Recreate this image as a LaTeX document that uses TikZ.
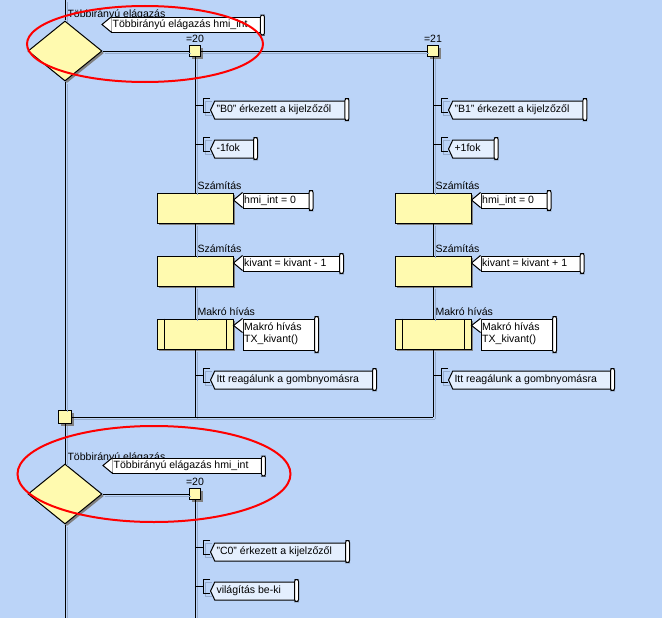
\documentclass[tikz,border=0pt]{standalone}
\usepackage{fontspec}
\setmainfont{Liberation Sans}
\usepackage{xcolor}
\usetikzlibrary{positioning,calc,shapes.geometric,shapes.symbols,shadows}

\definecolor{bgblue}{RGB}{187,212,248}
\definecolor{boxyellow}{RGB}{255,250,175}
\definecolor{noteblue}{RGB}{228,239,254}
\definecolor{lineshade}{RGB}{150,172,205}

\begin{document}
\begin{tikzpicture}[x=0.3mm, y=-0.3mm, line width=0.3mm, font=\fontsize{9}{10.5}\selectfont,
  flow/.style={preaction={draw=lineshade, transform canvas={shift={(0.6mm,-0.6mm)}}}},
  boxshadow/.style={drop shadow={shadow xshift=0.6mm, shadow yshift=-0.6mm, fill=black!50, opacity=1}},
  decide/.style={diamond, draw, fill=boxyellow, inner sep=0pt, minimum width=22.2mm, minimum height=18mm, boxshadow},
  joint/.style={draw, fill=boxyellow, inner sep=0pt, minimum size=3.3mm, boxshadow},
  calcbox/.style={draw, fill=boxyellow, inner sep=0pt, minimum width=22.8mm, minimum height=9mm, boxshadow},
  note/.style={signal, signal to=west, signal pointer angle=130, draw, fill=noteblue, minimum height=5.4mm,
    inner xsep=1.5pt, inner ysep=0pt, text height=2.3mm, text depth=0.65mm, execute at end node={\hspace*{4mm}}},
  callout/.style={draw, fill=white, minimum height=4.5mm, inner xsep=1pt, inner ysep=0pt,
    text height=2.3mm, text depth=0.65mm, execute at end node={\hspace*{4mm}}},
  makro/.style={align=left, minimum height=9.3mm, text height=5.7mm},
  scrollcap/.style={draw, fill=white, rounded corners=0.6mm},
  bracketsh/.style={draw=lineshade},
  lbl/.style={inner sep=0pt},
  redring/.style={ellipse, draw=red, line width=0.6mm, inner sep=0pt}]

\path[use as bounding box, fill=bgblue] (0,0) rectangle (662,618);

\coordinate (top) at (65,0);
\coordinate (bot1) at (65,618);
\coordinate (bot2) at (195,618);
\coordinate (e1) at (195,417);
\coordinate (e2) at (433,417);

\node[decide] (d1) at (65,51) {};
\node[lbl, above right=0.2mm and 0.6mm of d1.north] (d1t) {Többirányú elágazás};
\node[callout, anchor=north west] (c0) at (111,17) {Többirányú elágazás hmi\_int};
\node[joint] (b1) at (195,51) {};
\node[joint] (b2) at (433,51) {};
\node[lbl, above=0.7mm of b1] (b1t) {=20};
\node[lbl, above=0.7mm of b2] (b2t) {=21};

\node[note, anchor=west] (n1) at (210,110) {"B0" érkezett a kijelzőzől};
\node[note, anchor=west] (n2) at (210,149) {-1fok};
\node[calcbox] (s1) at (195,208) {};
\node[lbl, above right=0.6mm and 0.6mm of s1.north] (s1t) {Számítás};
\node[callout, right=2.7mm of s1.north east, anchor=north west] (c1) {hmi\_int = 0};
\node[calcbox] (s2) at (195,271) {};
\node[lbl, above right=0.6mm and 0.6mm of s2.north] (s2t) {Számítás};
\node[callout, right=2.7mm of s2.north east, anchor=north west] (c2) {kivant = kivant - 1};
\node[calcbox] (m1) at (195,334) {};
\node[lbl, above right=0.6mm and 0.6mm of m1.north] (m1t) {Makró hívás};
\node[callout, makro, right=2.7mm of m1.north east, anchor=north west] (c3) {Makró hívás\\TX\_kivant()};
\node[note, anchor=west] (n3) at (210,380) {Itt reagálunk a gombnyomásra};

\node[note, anchor=west] (n4) at (448,110) {"B1" érkezett a kijelzőzől};
\node[note, anchor=west] (n5) at (448,149) {+1fok};
\node[calcbox] (s3) at (433,208) {};
\node[lbl, above right=0.6mm and 0.6mm of s3.north] (s3t) {Számítás};
\node[callout, right=2.7mm of s3.north east, anchor=north west] (c4) {hmi\_int = 0};
\node[calcbox] (s4) at (433,271) {};
\node[lbl, above right=0.6mm and 0.6mm of s4.north] (s4t) {Számítás};
\node[callout, right=2.7mm of s4.north east, anchor=north west] (c5) {kivant = kivant + 1};
\node[calcbox] (m2) at (433,334) {};
\node[lbl, above right=0.6mm and 0.6mm of m2.north] (m2t) {Makró hívás};
\node[callout, makro, right=2.7mm of m2.north east, anchor=north west] (c6) {Makró hívás\\TX\_kivant()};
\node[note, anchor=west] (n6) at (448,380) {Itt reagálunk a gombnyomásra};

\node[joint, minimum size=3.9mm] (j0) at (65,417) {};

\node[decide] (d2) at (65,494) {};
\node[lbl, above right=0.2mm and 0.6mm of d2.north] (d2t) {Többirányú elágazás};
\node[callout, anchor=north west] (c7) at (112,458) {Többirányú elágazás hmi\_int};
\node[joint] (b3) at (195,494) {};
\node[lbl, above=0.7mm of b3] (b3t) {=20};
\node[note, anchor=west] (n7) at (210,552) {"C0" érkezett a kijelzőzől};
\node[note, anchor=west] (n8) at (210,591) {világítás be-ki};

\draw[flow] (top) -- (d1.north);
\draw[flow] (d1.east) -- (b1) -- (b2);
\draw[flow] (b1) -- (s1); \draw[flow] (s1) -- (s2); \draw[flow] (s2) -- (m1); \draw[flow] (m1) -- (e1);
\draw[flow] (b2) -- (s3); \draw[flow] (s3) -- (s4); \draw[flow] (s4) -- (m2); \draw[flow] (m2) -- (e2);
\draw[flow] (d1) -- (j0); \draw[flow] (j0) -- (e2);
\draw[flow] (j0) -- (d2); \draw[flow] (d2) -- (bot1);
\draw[flow] (d2.east) -- (b3); \draw[flow] (b3) -- (bot2);

\foreach \m in {m1,m2} {
  \draw ($(\m.north west)+(8,0)$) -- ($(\m.south west)+(8,0)$);
  \draw ($(\m.north east)+(-7,0)$) -- ($(\m.south east)+(-7,0)$);
}

\foreach \n in {n1,n2,n3,n4,n5,n6,n7,n8} {
  \draw[bracketsh] ($(\n.west)+(2,-9)$) -- ++(-7,0) -- ++(0,14) -- ++(7,0);
  \draw ($(\n.west)+(0,-12)$) -- ++(-7,0) -- ++(0,14) -- ++(7,0);
  \draw ($(\n.west)+(-15,-5)$) -- ++(8,0);
}

\foreach \n/\h in {c0/15,c1/15,c2/15,c3/14,c4/15,c5/15,c6/14,c7/15} {
  \fill[white] ($(\n.north west)+(0.6,0.5)$) -- ($(\n.north west)+(-9,\h/2)$) -- ($(\n.north west)+(0.6,\h-0.5)$) -- cycle;
  \draw (\n.north west) -- ($(\n.north west)+(-9,\h/2)$) -- ($(\n.north west)+(0,\h)$);
}

\foreach \n in {c0,c1,c2,c3,c4,c5,c6,c7,n1,n2,n3,n4,n5,n6,n7,n8}
  \draw[scrollcap] ($(\n.north east)+(-2,-2)$) rectangle ($(\n.south east)+(2,2)$);

\node[redring, minimum width=70.8mm, minimum height=22.8mm] (ring1) at (145,44) {};
\node[redring, minimum width=81.9mm, minimum height=28.8mm] (ring2) at (154,474) {};
\end{tikzpicture}
\end{document}
